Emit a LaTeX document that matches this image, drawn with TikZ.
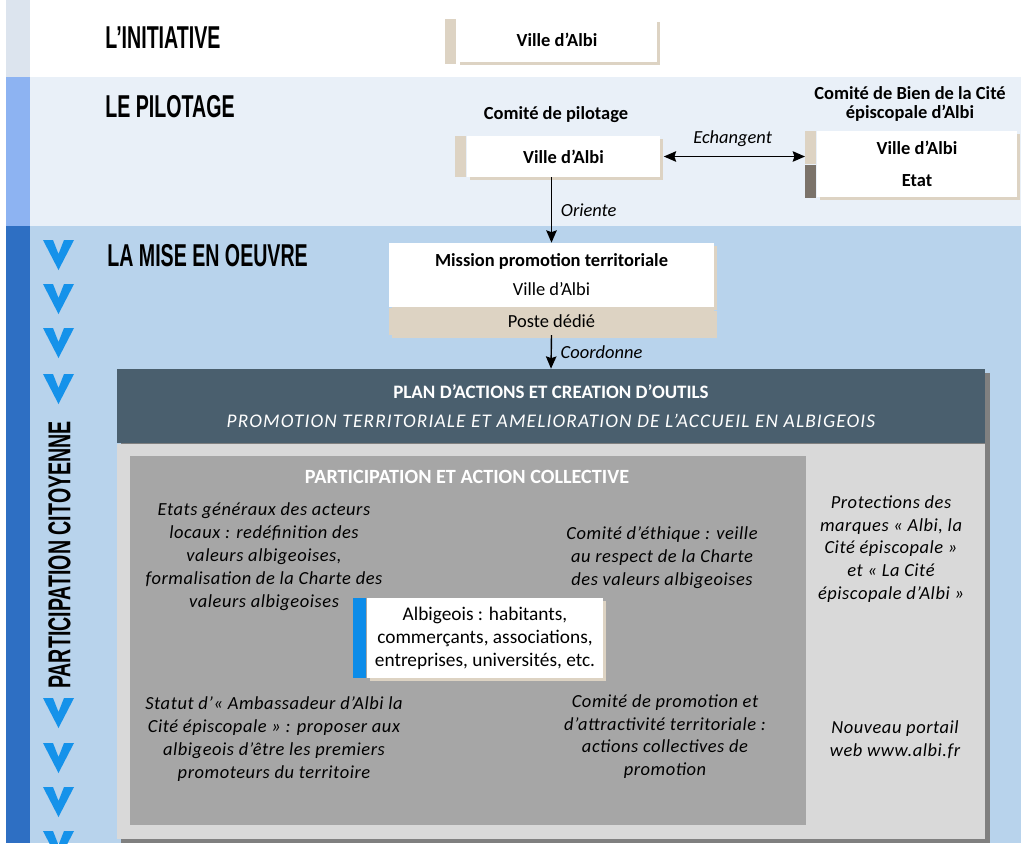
\documentclass[tikz,border=0pt]{standalone}
\usepackage{fontspec}
\setmainfont{Carlito}
\newfontfamily\headfont[FakeStretch=0.62]{Liberation Sans Bold}
\usetikzlibrary{shadows,positioning,arrows.meta}
\definecolor{stripA}{HTML}{DCE4EE}
\definecolor{stripB}{HTML}{8DB3F2}
\definecolor{stripC}{HTML}{2E6FC3}
\definecolor{bandpil}{HTML}{E9F0F8}
\definecolor{bandmain}{HTML}{B8D3EC}
\definecolor{beige}{HTML}{DDD3C3}
\definecolor{taupe}{HTML}{7B736A}
\definecolor{slate}{HTML}{4A5F6E}
\definecolor{panel}{HTML}{D9D9D9}
\definecolor{inner}{HTML}{A6A6A6}
\definecolor{shadowgrey}{HTML}{808080}
\definecolor{chev}{HTML}{1592EA}
\definecolor{albblue}{HTML}{0C8CE9}
\begin{document}
\begin{tikzpicture}[x=0.02cm,y=-0.02cm,>={Stealth[length=7pt,width=6pt,inset=1pt]},
	head/.style={font=\headfont\fontsize{18}{18}\selectfont,anchor=west,inner sep=0},
	card/.style={fill=white,inner sep=0,font=\bfseries\fontsize{10.5}{12}\selectfont,
		drop shadow={shadow xshift=0.06cm,shadow yshift=-0.06cm,fill=beige,opacity=1}},
	bar/.style={inner sep=0,minimum width=0.22cm,anchor=north east},
	note/.style={align=center,font=\itshape\fontsize{10.5}{13}\selectfont\addfontfeatures{LetterSpace=3},inner sep=0},
	verb/.style={font=\itshape\fontsize{10.5}{12}\selectfont,inner sep=1pt},
	link/.style={->,thick}]
	\useasboundingbox (0,0) rectangle (1021,843);
	% bandes
	\fill[white] (0,0) rectangle (1021,843);
	\fill[stripA] (6,0) rectangle (30,77);
	\fill[bandpil] (30,77) rectangle (1021,226);
	\fill[stripB] (6,77) rectangle (30,226);
	\fill[bandmain] (30,226) rectangle (1021,843);
	\fill[stripC] (6,226) rectangle (30,843);
	\foreach \y in {240,284,328,374,698,743,787,831}
		\fill[chev] (43,\y) -- (53,\y) -- (58.5,\y+14) -- (64,\y) -- (74,\y) -- (58.5,\y+30) -- cycle;
	\node[head,anchor=center,rotate=90] (citoy) at (59.5,555) {PARTICIPATION CITOYENNE};
	\node[head] (init) at (105,38) {L’INITIATIVE};
	\node[head] (pilot) at (105,107) {LE PILOTAGE};
	\node[head] (oeuvre) at (107,256) {LA MISE EN OEUVRE};
	% initiative
	\node[card,minimum width=4cm,minimum height=0.86cm] (initbox) at (557,40) {Ville d’Albi};
	\node[bar,fill=beige,minimum height=0.9cm] (initbar) at (initbox.north west) {};
	% pilotage
	\node[font=\bfseries\fontsize{10.5}{12}\selectfont] (cpil) at (556,115) {Comité de pilotage};
	\node[card,minimum width=3.86cm,minimum height=0.82cm] (pilbox) at (563.5,156.5) {Ville d’Albi};
	\node[bar,fill=beige,minimum height=0.82cm] (pilbar) at (pilbox.north west) {};
	\node[align=center,font=\bfseries\fontsize{10.5}{11}\selectfont] (cbien) at (910,104) {Comité de Bien de la Cité\\épiscopale d’Albi};
	\node[card,minimum width=4cm,minimum height=1.32cm,align=center] (cbbox) at (917,164) {Ville d’Albi\\[6pt]Etat};
	\node[bar,fill=beige,minimum height=0.66cm] (cbtop) at (cbbox.north west) {};
	\node[bar,fill=taupe,minimum height=0.66cm,anchor=north] (cbbot) at (cbtop.south) {};
	\draw[<->,thick,shorten <=2pt] (pilbox.east) -- (pilbox.east -| cbtop.west) node[midway,above=4pt,verb] {Echangent};
	% mise en oeuvre
	\node[card,font=\fontsize{10.5}{16.5}\selectfont,align=center,minimum width=6.5cm,minimum height=1.28cm] (misbox) at (551.5,275) {\textbf{Mission promotion territoriale}\\Ville d’Albi};
	\node[card,fill=beige,font=\fontsize{10.5}{12}\selectfont,minimum width=6.5cm,minimum height=0.54cm,anchor=north] (poste) at (misbox.south) {Poste dédié};
	\draw[link] (pilbox.south -| misbox.north) -- (misbox.north) node[midway,right=4pt,verb] {Oriente};
	\fill[shadowgrey] (121,373) rectangle (990,843);
	\node[fill=slate,text=white,minimum width=17.36cm,minimum height=1.48cm,inner sep=0,align=center,font=\fontsize{11}{16.5}\selectfont] (plan) at (551,406) {{\bfseries\fontsize{10.8}{16.5}\selectfont PLAN D’ACTIONS ET CREATION D’OUTILS}\\{\itshape\addfontfeatures{LetterSpace=6}PROMOTION TERRITORIALE ET AMELIORATION DE L’ACCUEIL EN ALBIGEOIS}};
	\draw[link] (poste.south) -- (plan.north) node[midway,right=4pt,verb] {Coordonne};
	\node[fill=panel,minimum width=17.36cm,minimum height=7.9cm,inner sep=0,anchor=north] (panel) at (plan.south) {};
	\node[fill=inner,minimum width=13.52cm,minimum height=7.38cm,inner sep=0] (collect) at (468,640.5) {};
	\node[text=white,font=\bfseries\fontsize{11.5}{13}\selectfont] (ctitle) at (467,477) {PARTICIPATION ET ACTION COLLECTIVE};
	\node[card,font=\fontsize{11}{13}\selectfont,align=center,minimum width=4.72cm,minimum height=1.6cm] (alb) at (485,638) {Albigeois : habitants,\\commerçants, associations,\\entreprises, universités, etc.};
	\node[bar,fill=albblue,minimum height=1.6cm,minimum width=0.26cm] (albbar) at (alb.north west) {};
	\node[note] (etats) at (264,556.5) {Etats généraux des acteurs\\locaux : redéfinition des\\valeurs albigeoises,\\formalisation de la Charte des\\valeurs albigeoises};
	\node[note] (ethique) at (662,557.5) {Comité d’éthique : veille\\au respect de la Charte\\des valeurs albigeoises};
	\node[note] (statut) at (274,739) {Statut d’«~Ambassadeur d’Albi la\\Cité épiscopale~» : proposer aux\\albigeois d’être les premiers\\promoteurs du territoire};
	\node[note] (cpromo) at (665,736.5) {Comité de promotion et\\d’attractivité territoriale :\\actions collectives de\\promotion};
	\node[note] (protect) at (891,549) {Protections des\\marques «~Albi, la\\Cité épiscopale~»\\et «~La Cité\\épiscopale d’Albi~»};
	\node[note] (portail) at (895,740) {Nouveau portail\\web www.albi.fr};
\end{tikzpicture}
\end{document}
